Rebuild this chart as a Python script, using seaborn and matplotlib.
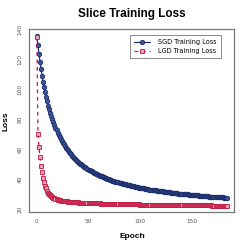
import numpy as np
import pandas as pd
import matplotlib
matplotlib.use("Agg")
import matplotlib.pyplot as plt
import seaborn as sns

# Values (one per epoch, 0..184)
sgd_loss = [135.6,129.3,123.6,118.4,113.6,109.2,105.2,101.5,98.1,94.9,92.0,89.2,86.7,84.3,82.0,79.9,77.9,76.1,74.3,72.6,71.1,69.6,68.2,66.9,65.6,64.4,63.2,62.1,61.1,60.1,59.2,58.3,57.4,56.6,55.8,55.0,54.3,53.6,52.9,52.2,51.6,51.0,50.4,49.9,49.3,48.8,48.3,47.8,47.3,46.9,46.4,46.0,45.6,45.2,44.8,44.4,44.1,43.7,43.4,43.0,42.7,42.4,42.1,41.8,41.5,41.2,40.9,40.6,40.4,40.1,39.9,39.6,39.4,39.1,38.9,38.7,38.4,38.2,38.0,37.8,37.6,37.4,37.2,37.0,36.8,36.7,36.5,36.3,36.1,36.0,35.8,35.6,35.5,35.3,35.2,35.0,34.9,34.7,34.6,34.4,34.3,34.2,34.0,33.9,33.8,33.6,33.5,33.4,33.3,33.1,33.0,32.9,32.8,32.7,32.6,32.5,32.4,32.3,32.2,32.1,32.0,31.9,31.8,31.7,31.6,31.5,31.4,31.3,31.2,31.1,31.0,30.9,30.8,30.8,30.7,30.6,30.5,30.4,30.4,30.3,30.2,30.1,30.1,30.0,29.9,29.8,29.8,29.7,29.6,29.6,29.5,29.4,29.4,29.3,29.2,29.2,29.1,29.0,29.0,28.9,28.8,28.8,28.7,28.7,28.6,28.6,28.5,28.4,28.4,28.3,28.3,28.2,28.2,28.1,28.1,28.0,28.0,27.9,27.9,27.8,27.8,27.7,27.7,27.6,27.6]
lgd_loss = [135.0,70.2,61.5,54.6,49.0,44.5,40.9,38.0,35.7,33.8,32.2,31.0,30.0,29.2,28.5,27.9,27.4,27.1,26.7,26.5,26.2,26.0,25.9,25.7,25.6,25.5,25.4,25.3,25.2,25.1,25.0,25.0,24.9,24.8,24.8,24.7,24.7,24.6,24.6,24.5,24.5,24.4,24.4,24.3,24.3,24.3,24.2,24.2,24.2,24.1,24.1,24.1,24.0,24.0,24.0,23.9,23.9,23.9,23.8,23.8,23.8,23.8,23.7,23.7,23.7,23.7,23.6,23.6,23.6,23.6,23.6,23.5,23.5,23.5,23.5,23.4,23.4,23.4,23.4,23.4,23.4,23.3,23.3,23.3,23.3,23.3,23.3,23.2,23.2,23.2,23.2,23.2,23.2,23.1,23.1,23.1,23.1,23.1,23.1,23.1,23.0,23.0,23.0,23.0,23.0,23.0,23.0,23.0,22.9,22.9,22.9,22.9,22.9,22.9,22.9,22.9,22.9,22.9,22.8,22.8,22.8,22.8,22.8,22.8,22.8,22.8,22.8,22.8,22.7,22.7,22.7,22.7,22.7,22.7,22.7,22.7,22.7,22.7,22.7,22.7,22.6,22.6,22.6,22.6,22.6,22.6,22.6,22.6,22.6,22.6,22.6,22.6,22.6,22.6,22.5,22.5,22.5,22.5,22.5,22.5,22.5,22.5,22.5,22.5,22.5,22.5,22.5,22.5,22.5,22.5,22.4,22.4,22.4,22.4,22.4,22.4,22.4,22.4,22.4,22.4,22.4,22.4,22.4,22.4,22.4]
series_labels = ["SGD Training Loss", "LGD Training Loss"]
x_ticks = [0, 50, 100, 150]
y_ticks = [20, 40, 60, 80, 100, 120, 140]

n = min(len(sgd_loss), len(lgd_loss))
epochs = np.arange(n)
df = pd.DataFrame({"Epoch": epochs, "SGD": sgd_loss[:n], "LGD": lgd_loss[:n]})

sns.set_style("white")
plt.rcParams["text.color"] = "black"
fig = plt.figure(figsize=(2.49, 2.49), dpi=100)
ax = fig.add_axes([0.1177, 0.1474, 0.824, 0.735])
blue = "#1c2e6b"; red = "#c4143f"
sns.lineplot(data=df, x="Epoch", y="SGD", ax=ax, color=blue, lw=0.9, marker="o", ms=3.2,
             mfc="#3f5799", mec=blue, mew=0.6, label=series_labels[0])
sns.lineplot(data=df, x="Epoch", y="LGD", ax=ax, color=red, lw=0.9, ls=(0, (3, 3)), marker="s", ms=2.8,
             mfc="#e9a3b5", mec=red, mew=0.6, label=series_labels[1])
lo = min(min(sgd_loss), min(lgd_loss)); hi = max(max(sgd_loss), max(lgd_loss))
ax.set_xlim(-0.04 * (n - 1), (n - 1) * 1.04)
ax.set_ylim(lo - 0.04 * (hi - lo), hi + 0.04 * (hi - lo))
ax.set_xticks(x_ticks); ax.set_yticks(y_ticks)
ax.set_xticklabels([str(t) for t in x_ticks]); ax.set_yticklabels([str(t) for t in y_ticks])
ax.tick_params(labelsize=4.2, colors="#555555", length=2.5, width=0.6, pad=2.5)
for t in ax.get_yticklabels():
    t.set_rotation(90); t.set_va("center")
for s in ax.spines.values():
    s.set_color("#777777"); s.set_linewidth(0.9)
ax.set_xlabel(""); ax.set_ylabel("")
leg = ax.legend(loc="upper left", bbox_to_anchor=(0.491, 0.969), borderaxespad=0, fontsize=4.7,
                frameon=True, fancybox=False, edgecolor="#555555", handlelength=2.5, handletextpad=1.2,
                labelspacing=0.45, borderpad=0.6)
leg.get_frame().set_linewidth(0.6)
for t in leg.get_texts():
    t.set_color("black")
fig.text(132/249, 1-14/249, "Slice Training Loss", ha="center", va="center", fontsize=8.5, fontweight="bold", family="Liberation Sans", color="black")
fig.text(132/249, 1-236/249, "Epoch", ha="center", va="center", fontsize=6, fontweight="bold", family="Liberation Sans", color="black")
fig.text(6/249, 1-121/249, "Loss", ha="center", va="center", fontsize=6, fontweight="bold", rotation=90, family="Liberation Sans", color="black")
fig.savefig("out.png", dpi=100)
